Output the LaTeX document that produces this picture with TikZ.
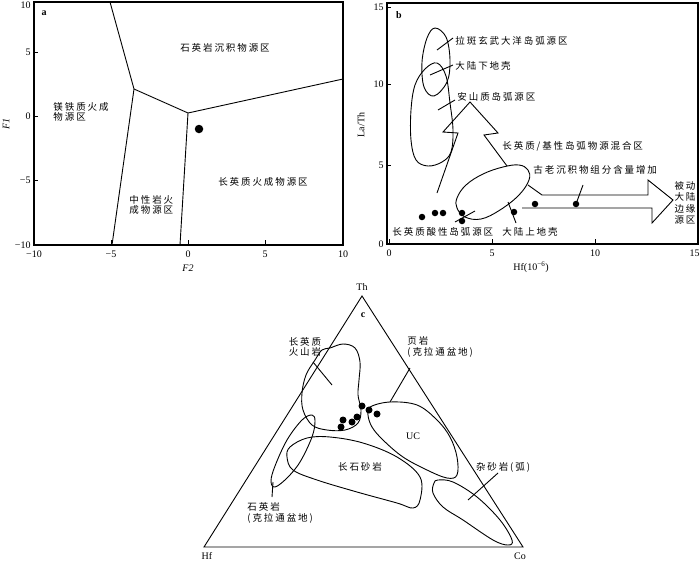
\documentclass[tikz,border=0pt]{standalone}
\usepackage{fontspec}
\setmainfont{Liberation Serif}
\newfontfamily\cjk{Noto Sans CJK SC}[LetterSpace=20]
\begin{document}
\begin{tikzpicture}[x=1pt,y=-1pt,line width=0.9pt,
  cj/.style={font=\cjk\fontsize{9.5}{10.5}\selectfont,inner sep=0pt},
  lat/.style={font=\fontsize{10}{12}\selectfont,inner sep=0pt},
  plab/.style={font=\bfseries\fontsize{10}{12}\selectfont,inner sep=0pt},
  dotb/.style={circle,fill=black,inner sep=0pt,minimum size=6.5pt},
  frame/.style={line width=1.1pt},
  blob/.style={line width=0.9pt}]
\useasboundingbox (0,0) rectangle (700,562);
% ================= panel a =================
\draw[frame] (34,2) rectangle (343,245);
\foreach \x/\l in {34/{−10},111/{−5},188/0,265/5,343/10}{
  \draw (\x,245) -- (\x,240);
  \node[lat] at (\x,254) {\l};}
\foreach \y/\l in {52/5,116/0,180/{−5},245/{−10}}{
  \draw (34,\y) -- (38,\y);
  \node[lat,anchor=east] at (31,\y) {\l};}
\node[lat,anchor=east] at (31,5) {10};
\node[lat,font=\itshape\fontsize{10}{12}\selectfont] at (188,268) {F2};
\node[lat,font=\itshape\fontsize{10}{12}\selectfont,rotate=90] at (6,124) {F1};
\node[plab] at (44,13) {a};
\coordinate (a1) at (110,2);
\coordinate (aJ1) at (134,89);
\coordinate (a2) at (112,245);
\coordinate (aJ2) at (188,113);
\coordinate (a3) at (343,79);
\coordinate (a4) at (180,245);
\draw (a1) -- (aJ1) -- (a2);
\draw (aJ1) -- (aJ2) -- (a3);
\draw (aJ2) -- (a4);
\node[circle,fill=black,inner sep=0pt,minimum size=8.5pt] (adot) at (199,129) {};
\node[cj] at (225,48) {石英岩沉积物源区};
\node[cj,anchor=west,align=left] at (53,112) {镁铁质火成\\物源区};
\node[cj,anchor=west,align=left] at (129,205) {中性岩火\\成物源区};
\node[cj] at (263,182) {长英质火成物源区};
% ================= panel b =================
\draw[frame] (387,3) rectangle (698,244);
\foreach \x/\l in {389/0,492/5,595/10}{
  \draw (\x,244) -- (\x,239);
  \node[lat] at (\x,253) {\l};}
\node[lat,anchor=east] at (700,253) {15};
\foreach \y/\l in {7/15,84/10,165/5,244/0}{
  \draw (387,\y) -- (391,\y);
  \node[lat,anchor=east] at (384,\y) {\l};}
\node[lat] at (531,267) {Hf(10\textsuperscript{−6})};
\node[lat,rotate=90] at (361,125) {La/Th};
\node[plab] at (399,15) {b};
\draw[blob] plot[smooth cycle,tension=0.6] coordinates {(435,28) (446,37) (450,60) (447,82) (434,96) (424,87) (422,62) (427,38)};
\draw[blob] plot[smooth cycle,tension=0.6] coordinates {(437,63) (446,76) (450,103) (453,130) (451,152) (442,162) (428,166) (416,160) (411,140) (411,110) (415,85) (425,69)};
\draw[blob] plot[smooth cycle,tension=0.65] coordinates {(457,198) (466,185) (483,174) (503,167) (519,165) (528,170) (529,180) (519,195) (500,210) (481,219) (465,217) (457,208)};
% up arrow
\coordinate (u1) at (437,193);
\coordinate (u2) at (458,133);
\coordinate (u3) at (443,132);
\coordinate (u4) at (470,102);
\coordinate (u5) at (498,133);
\coordinate (u6) at (484,135);
\coordinate (u7) at (507,166);
\draw (u1) -- (u2) -- (u3) -- (u4) -- (u5) -- (u6) -- (u7);
% right arrow
\coordinate (r1) at (528,185);
\coordinate (r2) at (542,195);
\coordinate (r3) at (648,195);
\coordinate (r4) at (648,180);
\coordinate (r5) at (673,200);
\coordinate (r6) at (652,223);
\coordinate (r7) at (652,208);
\coordinate (r8) at (522,208);
\draw (r1) -- (r2) -- (r3) -- (r4) -- (r5) -- (r6) -- (r7) -- (r8);
% dots
\foreach \p in {(422,217),(435,213),(443,213),(462,213),(462,221),(514,212),(535,204),(576,204)}
  \node[dotb] at \p {};
% labels + leaders
\coordinate (l1a) at (437,50); \coordinate (l1b) at (453,38);
\draw (l1a) -- (l1b);
\node[cj,anchor=west] at (455,41) {拉斑玄武大洋岛弧源区};
\coordinate (l2a) at (430,75); \coordinate (l2b) at (453,65);
\draw (l2a) -- (l2b);
\node[cj,anchor=west] at (455,66) {大陆下地壳};
\coordinate (l3a) at (438,110); \coordinate (l3b) at (455,100);
\draw (l3a) -- (l3b);
\node[cj,anchor=west] at (457,97) {安山质岛弧源区};
\node[cj,anchor=west] at (502,146) {长英质/基性岛弧物源混合区};
\coordinate (l4a) at (576,204); \coordinate (l4b) at (583,185);
\draw (l4a) -- (l4b);
\node[cj,anchor=west] at (533,170) {古老沉积物组分含量增加};
\coordinate (l5a) at (508,202); \coordinate (l5b) at (516,223);
\draw (l5a) -- (l5b);
\node[cj,anchor=west] at (502,232) {大陆上地壳};
\coordinate (l6a) at (455,222); \coordinate (l6b) at (475,211);
\draw (l6a) -- (l6b);
\node[cj,anchor=west] at (392,232) {长英质酸性岛弧源区};
\node[cj,align=center,font=\cjk\fontsize{9.5}{11.5}\selectfont] at (685,203) {被动\\大陆\\边缘\\源区};
% ================= panel c =================
\coordinate (Th) at (362,296);
\coordinate (Hf) at (204,547);
\coordinate (Co) at (523,547);
\draw (Th) -- (Hf) -- (Co) -- cycle;
\node[lat] at (362,287) {Th};
\node[lat] at (207,556) {Hf};
\node[lat] at (520,556) {Co};
\node[plab] at (363,315) {c};
\draw[blob] plot[smooth cycle,tension=0.6] coordinates {(330,348) (343,344) (355,348) (360,362) (359,380) (358,395) (361,410) (358,423) (345,430) (327,430) (312,425) (303,410) (302,393) (306,375) (315,360) (322,350)};
\draw[blob] plot[smooth cycle,tension=0.6] coordinates {(370,407) (390,402) (417,405) (437,420) (450,437) (457,457) (457,475) (447,478) (427,470) (403,457) (383,440) (372,427) (368,415)};
\draw[blob] plot[smooth cycle,tension=0.6] coordinates {(290,447) (307,438) (330,437) (363,443) (397,457) (420,477) (420,500) (413,508) (397,503) (357,492) (317,480) (293,470) (287,457)};
\draw[blob] plot[smooth cycle,tension=0.6] coordinates {(312,415) (315,421) (312,437) (300,462) (287,478) (275,487) (271,481) (275,466) (287,440) (302,420)};
\draw[blob] plot[smooth cycle,tension=0.6] coordinates {(438,480) (453,482) (477,497) (500,520) (512,540) (508,545) (493,540) (463,520) (443,507) (433,493) (434,483)};
\foreach \p in {(362,406),(369,410),(377,414),(357,417),(352,422),(343,420),(341,427)}
  \node[dotb,minimum size=7pt] at \p {};
\coordinate (c1a) at (313,362); \coordinate (c1b) at (332,385);
\draw (c1a) -- (c1b);
\node[cj,align=center] at (305,347) {长英质\\火山岩};
\coordinate (c2a) at (410,368); \coordinate (c2b) at (390,402);
\draw (c2a) -- (c2b);
\node[cj,anchor=west,align=left] at (407,347) {页岩\\(克拉通盆地)};
\node[lat] at (413,436) {UC};
\node[cj] at (360,467) {长石砂岩};
\coordinate (c3a) at (498,473); \coordinate (c3b) at (468,500);
\draw (c3a) -- (c3b);
\node[cj] at (503,467) {杂砂岩(弧)};
\coordinate (c4a) at (273,482); \coordinate (c4b) at (272,497);
\draw (c4a) -- (c4b);
\node[cj,anchor=west,align=left] at (247,513) {石英岩\\(克拉通盆地)};
\end{tikzpicture}
\end{document}
